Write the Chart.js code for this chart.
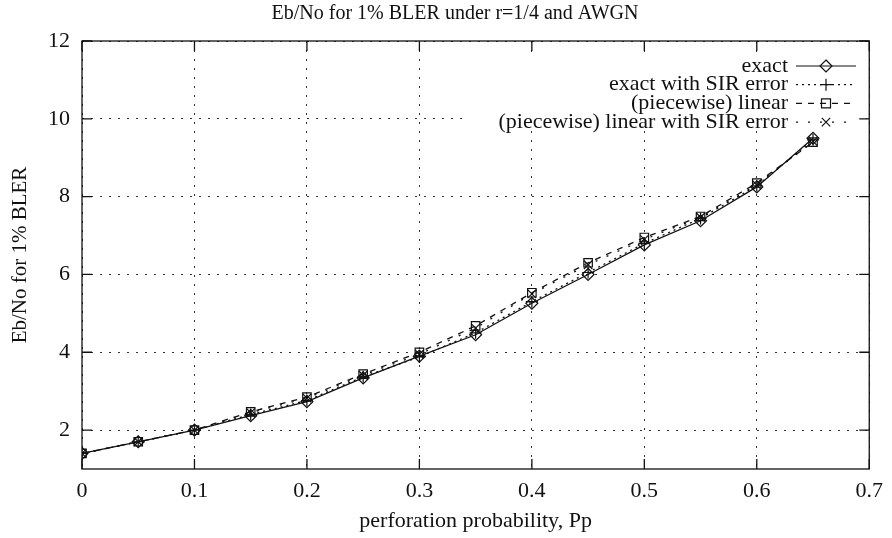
<!DOCTYPE html>
<html>
<head>
<meta charset="utf-8">
<title>Eb/No for 1% BLER</title>
<script src="https://cdn.jsdelivr.net/npm/chart.js"></script>
<style>
  body { margin: 0; background: #fff; }
  #wrap { width: 892px; height: 538px; }
</style>
</head>
<body>
<div id="wrap"><canvas id="myChart" width="892" height="538"></canvas></div>
<script>
const pp = [0, 0.05, 0.1, 0.15, 0.2, 0.25, 0.3, 0.35, 0.4, 0.45, 0.5, 0.55, 0.6, 0.65];
const exact = [1.4, 1.7, 2.0, 2.37, 2.73, 3.34, 3.9, 4.45, 5.26, 6.0, 6.76, 7.38, 8.25, 9.5];
const exactSir = [1.4, 1.7, 2.0, 2.4, 2.76, 3.37, 3.88, 4.5, 5.3, 6.05, 6.8, 7.44, 8.28, 9.46];
const linear = [1.4, 1.7, 2.0, 2.47, 2.85, 3.44, 4.0, 4.68, 5.53, 6.3, 6.95, 7.49, 8.35, 9.4];
const linearSir = [1.4, 1.7, 2.0, 2.45, 2.82, 3.41, 3.95, 4.62, 5.5, 6.25, 6.9, 7.47, 8.3, 9.42];
const xTicks = [0, 0.1, 0.2, 0.3, 0.4, 0.5, 0.6, 0.7];
const yTicks = [2, 4, 6, 8, 10, 12];

const FONT = "'Liberation Serif', 'DejaVu Serif', serif";

function points(ys) {
  return pp.map((x, i) => ({ x: x, y: ys[i] }));
}

function series(label, ys, style, dash) {
  return {
    label: label,
    data: points(ys),
    borderColor: "#111",
    borderWidth: 1.3,
    borderDash: dash,
    pointStyle: style,
    pointRadius: 6,
    pointBorderWidth: 1.2,
    pointBorderColor: "#111",
    pointBackgroundColor: "rgba(0,0,0,0)",
    fill: false,
    tension: 0,
  };
}

// marker drawing for the key
function marker(ctx, style, x, y, r) {
  ctx.beginPath();
  if (style === "rectRot") {
    ctx.moveTo(x, y - r); ctx.lineTo(x + r, y); ctx.lineTo(x, y + r); ctx.lineTo(x - r, y); ctx.closePath();
  } else if (style === "rect") {
    let s = r * 0.75;
    ctx.rect(x - s, y - s, 2 * s, 2 * s);
  } else if (style === "cross") {
    ctx.moveTo(x - r, y); ctx.lineTo(x + r, y); ctx.moveTo(x, y - r); ctx.lineTo(x, y + r);
  } else {
    let s = r * 0.7;
    ctx.moveTo(x - s, y - s); ctx.lineTo(x + s, y + s); ctx.moveTo(x + s, y - s); ctx.lineTo(x - s, y + s);
  }
  ctx.stroke();
}

const gnuplotLook = {
  id: "gnuplotLook",
  beforeDatasetsDraw(chart) {
    // opaque key box hides the grid
    const ctx = chart.ctx;
    ctx.save();
    ctx.fillStyle = "#fff";
    ctx.fillRect(464, 52, 402, 78);
    ctx.restore();
  },
  afterDraw(chart) {
    const ctx = chart.ctx;
    const a = chart.chartArea;
    const xs = chart.scales.x, ys = chart.scales.y;
    ctx.save();
    ctx.strokeStyle = "#111";
    ctx.lineWidth = 1.3;
    ctx.setLineDash([]);
    ctx.strokeRect(a.left, a.top, a.right - a.left, a.bottom - a.top);
    ctx.beginPath();
    xTicks.forEach(v => {
      let px = xs.getPixelForValue(v);
      ctx.moveTo(px, a.bottom); ctx.lineTo(px, a.bottom - 10);
      ctx.moveTo(px, a.top); ctx.lineTo(px, a.top + 10);
    });
    yTicks.forEach(v => {
      let py = ys.getPixelForValue(v);
      ctx.moveTo(a.left, py); ctx.lineTo(a.left + 10, py);
      ctx.moveTo(a.right, py); ctx.lineTo(a.right - 10, py);
    });
    ctx.stroke();

    // titles
    ctx.fillStyle = "#111";
    ctx.font = "20px " + FONT;
    ctx.textAlign = "center";
    ctx.textBaseline = "middle";
    ctx.fillText("Eb/No for 1% BLER under r=1/4 and AWGN", 455, 14);
    ctx.font = "22px " + FONT;
    ctx.fillText("perforation probability, Pp", (a.left + a.right) / 2, 521);
    ctx.save();
    ctx.translate(20, (a.top + a.bottom) / 2);
    ctx.rotate(-Math.PI / 2);
    ctx.font = "21px " + FONT;
    ctx.fillText("Eb/No for 1% BLER", 0, 0);
    ctx.restore();

    // key
    ctx.font = "22px " + FONT;
    ctx.textAlign = "right";
    chart.data.datasets.forEach((ds, i) => {
      let y = 66 + i * 18.7;
      ctx.fillStyle = "#111";
      ctx.fillText(ds.label, 788, y);
      ctx.lineWidth = 1.2;
      ctx.setLineDash(ds.borderDash);
      ctx.beginPath();
      ctx.moveTo(796, y); ctx.lineTo(856, y);
      ctx.stroke();
      ctx.setLineDash([]);
      ctx.lineWidth = 1.2;
      marker(ctx, ds.pointStyle, 826, y, 6);
    });
    ctx.restore();
  },
};

function renderChart() {
  const ctx = document.getElementById("myChart");

  new Chart(ctx, {
    type: "line",
    data: {
      datasets: [
        series("exact", exact, "rectRot", []),
        series("exact with SIR error", exactSir, "cross", [2, 4]),
        series("(piecewise) linear", linear, "rect", [6, 6]),
        series("(piecewise) linear with SIR error", linearSir, "crossRot", [2, 10]),
      ],
    },
    options: {
      responsive: false,
      animation: false,
      layout: { padding: { top: 41, right: 14, left: 0, bottom: 0 } },
      plugins: {
        legend: { display: false },
        title: { display: false },
        tooltip: { enabled: false },
      },
      scales: {
        x: {
          type: "linear",
          min: 0,
          max: 0.7,
          afterBuildTicks: s => { s.ticks = xTicks.map(v => ({ value: v })); },
          afterFit: s => { s.height = 69; },
          ticks: {
            padding: 9,
            color: "#111",
            font: { family: FONT, size: 22 },
            maxRotation: 0,
            autoSkip: false,
            callback: v => String(v),
          },
          grid: { color: "#333", lineWidth: 1, drawTicks: false },
          border: { display: false, dash: [2, 7] },
        },
        y: {
          min: 1,
          max: 12,
          afterBuildTicks: s => { s.ticks = yTicks.map(v => ({ value: v })); },
          afterFit: s => { s.width = 82; },
          ticks: {
            padding: 12,
            color: "#111",
            font: { family: FONT, size: 22 },
            autoSkip: false,
            callback: v => String(v),
          },
          grid: { color: "#333", lineWidth: 1, drawTicks: false },
          border: { display: false, dash: [2, 7] },
        },
      },
    },
    plugins: [gnuplotLook],
  });
}

renderChart();
</script>
</body>
</html>
